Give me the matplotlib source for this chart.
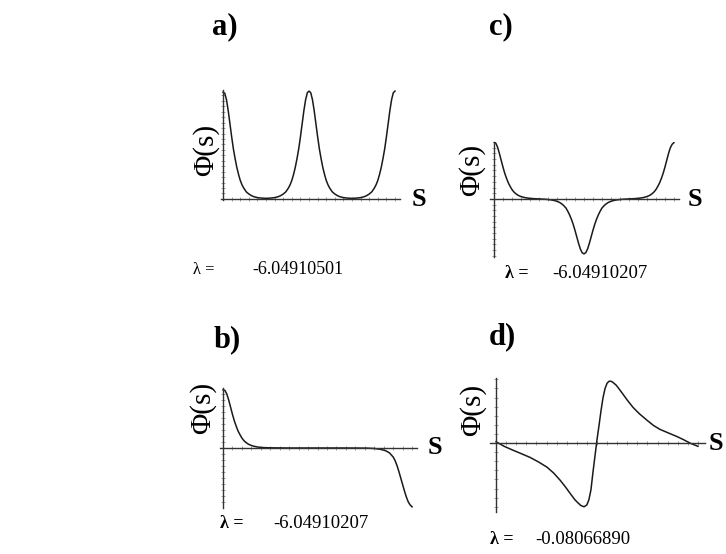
import numpy as np
import matplotlib
matplotlib.use("Agg")
import matplotlib.pyplot as plt

# ---- data (s in arbitrary units 0..10) ----
s_a = [0, 0.1, 0.2, 0.3, 0.4, 0.5, 0.6, 0.7, 0.8, 0.9, 1.0, 1.1, 1.2, 1.35, 1.5, 1.65, 1.8, 2.0, 2.2, 2.5,
       2.8, 3.0, 3.2, 3.35, 3.5, 3.65, 3.8, 3.9, 4.0, 4.1, 4.2, 4.3, 4.4, 4.5, 4.6, 4.7, 4.8, 4.9, 5.0,
       5.1, 5.2, 5.3, 5.4, 5.5, 5.6, 5.7, 5.8, 5.9, 6.0, 6.1, 6.2, 6.35, 6.5, 6.65, 6.8, 7.0, 7.2, 7.5,
       7.8, 8.0, 8.2, 8.35, 8.5, 8.65, 8.8, 8.9, 9.0, 9.1, 9.2, 9.3, 9.4, 9.5, 9.6, 9.7, 9.8, 9.9, 10.0]
phi_a = [0.98, 0.97, 0.91, 0.81, 0.69, 0.57, 0.46, 0.37, 0.29, 0.225, 0.17, 0.13, 0.10, 0.065, 0.045,
         0.03, 0.02, 0.012, 0.008, 0.005,
         0.008, 0.012, 0.02, 0.03, 0.045, 0.065, 0.10, 0.13, 0.17, 0.225, 0.29, 0.37, 0.46, 0.57, 0.69,
         0.81, 0.91, 0.975, 0.99,
         0.975, 0.91, 0.81, 0.69, 0.57, 0.46, 0.37, 0.29, 0.225, 0.17, 0.13, 0.10, 0.065, 0.045, 0.03,
         0.02, 0.012, 0.008, 0.005,
         0.008, 0.012, 0.02, 0.03, 0.045, 0.065, 0.10, 0.13, 0.17, 0.225, 0.29, 0.37, 0.46, 0.57, 0.69,
         0.81, 0.91, 0.975, 0.99]

s_b = [0, 0.1, 0.2, 0.3, 0.4, 0.5, 0.6, 0.7, 0.8, 0.9, 1.0, 1.1, 1.2, 1.35, 1.5, 1.65, 1.8, 2.0, 2.2, 2.5,
       3.5, 5.0, 6.5, 7.6, 8.0, 8.3, 8.6, 8.8, 9.0, 9.1, 9.2, 9.3, 9.4, 9.5, 9.6, 9.7, 9.8, 9.9, 10.0]
phi_b = [0.97, 0.96, 0.90, 0.80, 0.68, 0.56, 0.45, 0.36, 0.28, 0.22, 0.165, 0.125, 0.095, 0.062, 0.042,
         0.028, 0.018, 0.01, 0.006, 0.003,
         0.0, 0.0, 0.0, -0.002, -0.008, -0.02, -0.045, -0.08, -0.15, -0.21, -0.29, -0.39, -0.50, -0.61,
         -0.72, -0.82, -0.90, -0.95, -0.98]

s_c = s_a
phi_c = [1.0, 0.98, 0.91, 0.80, 0.68, 0.56, 0.45, 0.36, 0.28, 0.22, 0.165, 0.125, 0.095, 0.062, 0.042,
         0.028, 0.018, 0.01, 0.005, 0.0,
         -0.005, -0.01, -0.018, -0.028, -0.042, -0.062, -0.095, -0.125, -0.16, -0.215, -0.28, -0.355,
         -0.445, -0.55, -0.665, -0.78, -0.88, -0.945, -0.965,
         -0.945, -0.88, -0.78, -0.665, -0.55, -0.445, -0.355, -0.28, -0.215, -0.16, -0.125, -0.095,
         -0.062, -0.042, -0.028, -0.018, -0.01, -0.005, 0.0,
         0.005, 0.01, 0.018, 0.028, 0.042, 0.062, 0.095, 0.125, 0.165, 0.22, 0.28, 0.36, 0.45, 0.56,
         0.68, 0.80, 0.90, 0.96, 0.99]

s_d = [0, 0.4, 0.84, 1.3, 1.68, 2.1, 2.52, 2.85, 3.17, 3.45, 3.66, 3.9, 4.06, 4.2, 4.36, 4.5, 4.6, 4.7,
       4.8, 4.9, 5.0, 5.1, 5.2, 5.3, 5.4, 5.5, 5.6, 5.7, 5.8, 5.95, 6.1, 6.29, 6.5, 6.78, 7.1, 7.48,
       7.8, 8.12, 8.5, 8.96, 9.3, 9.6, 10.0]
phi_d = [0.02, -0.05, -0.11, -0.17, -0.22, -0.29, -0.37, -0.46, -0.57, -0.68, -0.77, -0.87, -0.92,
         -0.96, -0.98, -0.95, -0.87, -0.72, -0.45, -0.20, 0.05, 0.27, 0.50, 0.70, 0.84, 0.92, 0.95,
         0.95, 0.93, 0.89, 0.83, 0.75, 0.66, 0.55, 0.45, 0.35, 0.27, 0.21, 0.16, 0.10, 0.05, 0.0, -0.05]

labels = ["a)", "b)", "c)", "d)"]
lambdas = ["-6.04910501", "-6.04910207", "-6.04910207", "-0.08066890"]

W, H = 726, 554
fig = plt.figure(figsize=(W / 100, H / 100), dpi=100)
serif = "Liberation Serif"


def px_axes(x0, x1, ytop, ybot):
    return fig.add_axes([x0 / W, 1 - ybot / H, (x1 - x0) / W, (ybot - ytop) / H])


def fig_text(x, y, txt, **kw):
    fig.text(x / W, 1 - y / H, txt, family=serif, **kw)


def draw_panel(box, xlim, ylim, s, phi, ystep):
    ax = px_axes(*box)
    ax.plot(s, phi, color="#1a1a1a", lw=1.1)
    ax.set_xlim(*xlim)
    ax.set_ylim(*ylim)
    ax.spines["left"].set_position(("data", 0))
    ax.spines["bottom"].set_position(("data", 0))
    for side in ["top", "right"]:
        ax.spines[side].set_visible(False)
    for side in ["left", "bottom"]:
        ax.spines[side].set_color("#333333")
        ax.spines[side].set_linewidth(1.0)
    ax.set_xticks(np.arange(0.5, xlim[1], 0.5))
    yt = np.concatenate([-np.arange(ystep, -ylim[0], ystep), np.arange(ystep, ylim[1], ystep)])
    ax.set_yticks(yt)
    ax.tick_params(direction="inout", length=2.2, width=0.5, colors="#777777",
                   labelbottom=False, labelleft=False)
    ax.patch.set_alpha(0)
    return ax


# panel a
draw_panel((221, 400, 90, 200), (-0.12, 10.29), (-0.01, 1.0), s_a, phi_a, 0.05)
# panel c
draw_panel((490, 679, 142, 257), (-0.22, 10.28), (-1.02, 1.0), s_c, phi_c, 0.1)
# panel b
draw_panel((220, 417, 388, 508), (-0.16, 10.26), (-1.0, 1.0), s_b, phi_b, 0.1)
# panel d
draw_panel((490, 705, 378, 512), (-0.3, 10.35), (-1.06, 1.0), s_d, phi_d, 0.14)

# panel letters
fig_text(212, 27, labels[0], fontsize=22, fontweight="bold", va="center")
fig_text(489, 27, labels[2], fontsize=22, fontweight="bold", va="center")
fig_text(214, 340, labels[1], fontsize=22, fontweight="bold", va="center")
fig_text(489, 337, labels[3], fontsize=22, fontweight="bold", va="center")

# y labels
for (x, y) in [(206, 150), (472, 170), (203, 408), (473, 410)]:
    fig_text(x, y, "\u03a6(s)", fontsize=21, rotation=90, ha="center", va="center")

# x labels
for (x, y) in [(412, 200), (688, 199), (428, 448), (709, 443)]:
    fig_text(x, y, "S", fontsize=19, fontweight="bold", ha="left", va="center")

# eigenvalues
fig_text(193, 270, "\u03bb =", fontsize=12, va="center")
fig_text(252, 270, lambdas[0], fontsize=13, va="center")
fig_text(505, 273, "\u03bb =", fontsize=13, fontweight="bold", va="center")
fig_text(552, 273, lambdas[2], fontsize=13.5, va="center")
fig_text(220, 523, "\u03bb =", fontsize=13, fontweight="bold", va="center")
fig_text(273, 523, lambdas[1], fontsize=13.5, va="center")
fig_text(490, 540, "\u03bb =", fontsize=13, fontweight="bold", va="center")
fig_text(535, 540, lambdas[3], fontsize=13.5, va="center")

fig.savefig("out.png", dpi=100, facecolor="white")
